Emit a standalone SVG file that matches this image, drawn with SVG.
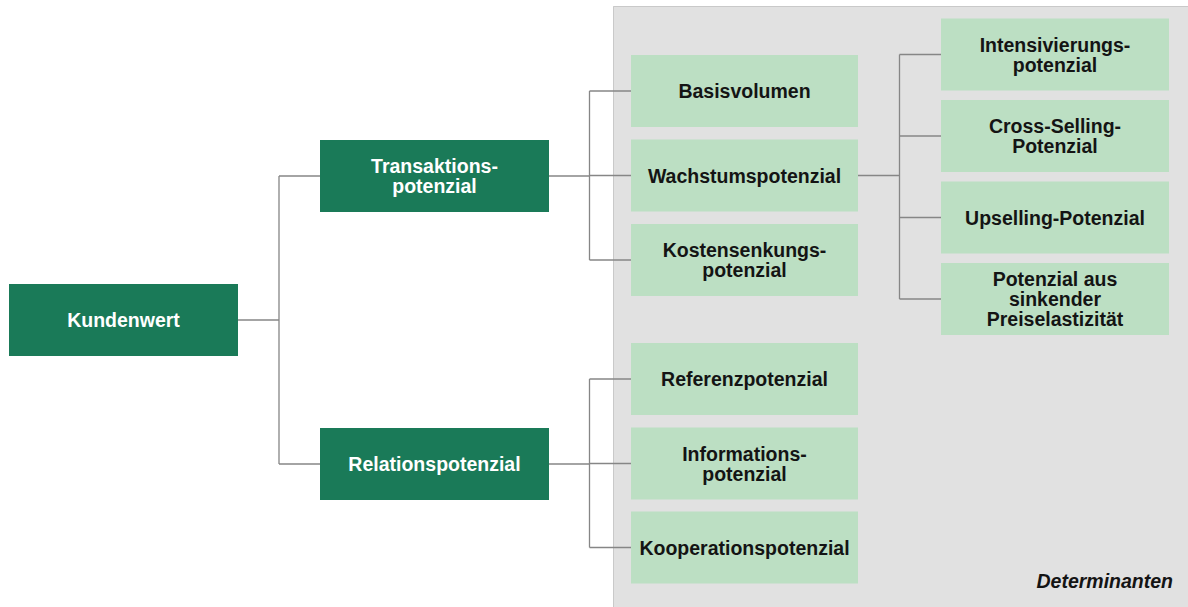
<svg xmlns="http://www.w3.org/2000/svg" width="1188" height="607" viewBox="0 0 1188 607">
  <style>
    .panel { fill: #e1e1e1; }
    .panel-edge { stroke: #c9c9c9; stroke-width: 1; fill: none; }
    .dark { fill: #1a7a58; }
    .light { fill: #bcdfc3; }
    .link { stroke: #868686; stroke-width: 1.3; fill: none; }
    text { font-family: "Liberation Sans", Arial, sans-serif; font-weight: bold; font-size: 19.5px; text-anchor: middle; }
    .on-dark { fill: #ffffff; }
    .on-light { fill: #141414; }
    .caption { font-style: italic; text-anchor: end; fill: #141414; }
  </style>

  <!-- Determinanten panel -->
  <g id="panel">
    <rect class="panel" x="613" y="6" width="575" height="601"/>
    <path class="panel-edge" d="M613.5 607 V6.5 H1188"/>
    <text class="caption" x="1173" y="588">Determinanten</text>
  </g>

  <!-- Tree connectors -->
  <g id="connectors">
    <path class="link" d="M238 320 H279 M279 176 V464 M279 176 H320 M279 464 H320"/>
    <path class="link" d="M549 176 H589.5 M589.5 91 V260 M589.5 91 H631 M589.5 175.5 H631 M589.5 260 H631"/>
    <path class="link" d="M858 175.5 H899.5 M899.5 54.5 V299 M899.5 54.5 H941 M899.5 136 H941 M899.5 217.5 H941 M899.5 299 H941"/>
    <path class="link" d="M549 464 H589.5 M589.5 379 V547.5 M589.5 379 H631 M589.5 463.5 H631 M589.5 547.5 H631"/>
  </g>

  <!-- Level 0 -->
  <g id="kundenwert">
    <rect class="dark" x="9" y="284" width="229" height="72"/>
    <text class="on-dark" x="123.5" y="327">Kundenwert</text>
  </g>

  <!-- Level 1 -->
  <g id="transaktionspotenzial">
    <rect class="dark" x="320" y="140" width="229" height="72"/>
    <text class="on-dark" x="434.5" y="173">Transaktions-</text>
    <text class="on-dark" x="434.5" y="193">potenzial</text>
  </g>
  <g id="relationspotenzial">
    <rect class="dark" x="320" y="428" width="229" height="72"/>
    <text class="on-dark" x="434.5" y="471">Relationspotenzial</text>
  </g>

  <!-- Level 2: transaction side -->
  <g id="basisvolumen">
    <rect class="light" x="631" y="55" width="227" height="72"/>
    <text class="on-light" x="744.5" y="98">Basisvolumen</text>
  </g>
  <g id="wachstumspotenzial">
    <rect class="light" x="631" y="139.5" width="227" height="72"/>
    <text class="on-light" x="744.5" y="182.5">Wachstumspotenzial</text>
  </g>
  <g id="kostensenkungspotenzial">
    <rect class="light" x="631" y="224" width="227" height="72"/>
    <text class="on-light" x="744.5" y="257">Kostensenkungs-</text>
    <text class="on-light" x="744.5" y="277">potenzial</text>
  </g>

  <!-- Level 2: relation side -->
  <g id="referenzpotenzial">
    <rect class="light" x="631" y="343" width="227" height="72"/>
    <text class="on-light" x="744.5" y="386">Referenzpotenzial</text>
  </g>
  <g id="informationspotenzial">
    <rect class="light" x="631" y="427.5" width="227" height="72"/>
    <text class="on-light" x="744.5" y="460.5">Informations-</text>
    <text class="on-light" x="744.5" y="480.5">potenzial</text>
  </g>
  <g id="kooperationspotenzial">
    <rect class="light" x="631" y="511.5" width="227" height="72"/>
    <text class="on-light" x="744.5" y="554.5">Kooperationspotenzial</text>
  </g>

  <!-- Level 3: growth potential -->
  <g id="intensivierungspotenzial">
    <rect class="light" x="941" y="18.5" width="228" height="72"/>
    <text class="on-light" x="1055" y="51.5">Intensivierungs-</text>
    <text class="on-light" x="1055" y="71.5">potenzial</text>
  </g>
  <g id="cross-selling-potenzial">
    <rect class="light" x="941" y="100" width="228" height="72"/>
    <text class="on-light" x="1055" y="133">Cross-Selling-</text>
    <text class="on-light" x="1055" y="153">Potenzial</text>
  </g>
  <g id="upselling-potenzial">
    <rect class="light" x="941" y="181.5" width="228" height="72"/>
    <text class="on-light" x="1055" y="224.5">Upselling-Potenzial</text>
  </g>
  <g id="preiselastizitaet">
    <rect class="light" x="941" y="263" width="228" height="72"/>
    <text class="on-light" x="1055" y="286">Potenzial aus</text>
    <text class="on-light" x="1055" y="306">sinkender</text>
    <text class="on-light" x="1055" y="326">Preiselastizität</text>
  </g>
</svg>
